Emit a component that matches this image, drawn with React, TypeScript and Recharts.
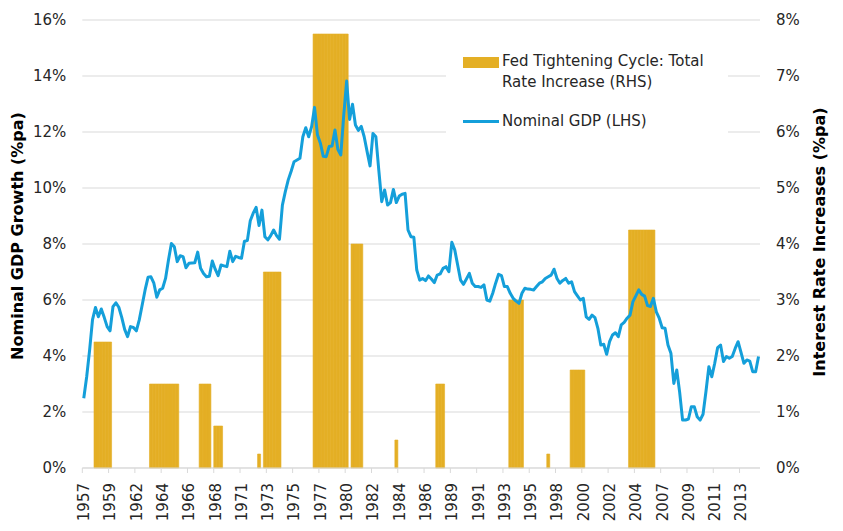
import { ComposedChart, Bar, Line, XAxis, YAxis, CartesianGrid, Legend } from 'recharts';

const FONT = '"DejaVu Sans", Verdana, sans-serif';
const BAR_COLOR = '#E4AF25';
const LINE_COLOR = '#149FDA';
const GRID = '#D9D9D9';
const TEXT = '#262626';

// quarterly data starts at 1957 Q3
const FIRST_YEAR = 1957;
const FIRST_QUARTER = 3;

// Nominal GDP growth, % y/y (LHS)
const gdpGrowth = [
  2.49, 3.26, 4.21, 5.3, 5.73, 5.4, 5.68, 5.38, 5.05, 4.9,
  5.76, 5.9, 5.74, 5.38, 4.95, 4.69, 5.05, 5.02, 4.9, 5.29,
  5.82, 6.36, 6.81, 6.83, 6.6, 6.1, 6.36, 6.42, 6.77, 7.43,
  8.02, 7.9, 7.37, 7.58, 7.55, 7.15, 7.31, 7.32, 7.33, 7.71,
  7.13, 6.95, 6.83, 6.85, 7.39, 7.1, 6.87, 7.25, 7.22, 7.19,
  7.74, 7.37, 7.56, 7.52, 7.49, 8.1, 8.12, 8.83, 9.1, 9.31,
  8.66, 9.21, 8.26, 8.15, 8.3, 8.5, 8.3, 8.17, 9.39, 9.87,
  10.29, 10.6, 10.94, 11.0, 11.06, 11.83, 12.15, 11.83, 12.19, 12.88,
  11.9, 11.6, 11.13, 11.12, 11.48, 11.5, 12.07, 11.37, 11.18, 12.6,
  13.82, 12.45, 12.99, 12.25, 12.06, 12.2, 11.83, 11.3, 10.79, 11.95,
  11.83, 10.64, 9.51, 9.93, 9.39, 9.48, 9.95, 9.48, 9.71, 9.78,
  9.81, 8.5, 8.26, 8.24, 7.07, 6.71, 6.77, 6.69, 6.86, 6.75,
  6.62, 6.89, 6.93, 7.13, 7.19, 7.01, 8.06, 7.79, 7.25, 6.71,
  6.56, 6.75, 6.95, 6.6, 6.48, 6.48, 6.45, 6.54, 6.0, 5.96,
  6.24, 6.6, 6.92, 6.87, 6.48, 6.48, 6.24, 6.06, 5.96, 5.88,
  6.24, 6.42, 6.39, 6.38, 6.36, 6.48, 6.6, 6.65, 6.77, 6.83,
  6.89, 7.1, 6.77, 6.6, 6.7, 6.77, 6.6, 6.65, 6.3, 6.15,
  6.0, 6.06, 5.4, 5.31, 5.46, 5.37, 4.99, 4.39, 4.42, 4.06,
  4.51, 4.75, 4.83, 4.69, 5.11, 5.2, 5.35, 5.46, 5.94, 6.15,
  6.36, 6.2, 6.14, 5.8, 5.77, 6.06, 5.58, 5.35, 5.01, 4.99,
  4.39, 4.1, 3.02, 3.5, 2.7, 1.71, 1.71, 1.75, 2.19, 2.19,
  1.83, 1.71, 1.92, 2.73, 3.62, 3.26, 3.74, 4.3, 4.39, 3.8,
  3.98, 3.92, 3.98, 4.27, 4.51, 4.13, 3.74, 3.86, 3.82, 3.44,
  3.44, 3.98,
];

// Fed tightening cycles: first and last quarter, total rate increase (RHS)
const cycleStart = ['1958Q3', '1963Q2', '1967Q3', '1968Q4', '1972Q3', '1973Q1', '1977Q2', '1980Q3', '1984Q2', '1987Q4', '1994Q1', '1997Q2', '1999Q2', '2004Q2'];
const cycleEnd = ['1959Q4', '1965Q3', '1968Q2', '1969Q2', '1972Q3', '1974Q2', '1980Q1', '1981Q2', '1984Q2', '1988Q2', '1995Q1', '1997Q2', '2000Q2', '2006Q2'];
const cycleRise = [2.25, 1.5, 1.5, 0.75, 0.25, 3.5, 7.75, 4.0, 0.5, 1.5, 3.0, 0.25, 1.75, 4.25];

const leftTicks = [0, 2, 4, 6, 8, 10, 12, 14, 16];
const rightTicks = [0, 1, 2, 3, 4, 5, 6, 7, 8];

const BAR_NAME = ['Fed Tightening Cycle: Total', 'Rate Increase (RHS)'];
const LINE_NAME = 'Nominal GDP (LHS)';

const quarters = gdpGrowth.map((_, i) => {
  const q = FIRST_QUARTER - 1 + i;
  return `${FIRST_YEAR + Math.floor(q / 4)}Q${(q % 4) + 1}`;
});

const data = quarters.map((quarter, i) => {
  let rise: number | null = null;
  cycleStart.forEach((s, k) => {
    if (quarter >= s && quarter <= cycleEnd[k]) rise = cycleRise[k];
  });
  return { quarter, gdp: gdpGrowth[i], rise };
});

const PLOT_LEFT = 82.3;
const PLOT_RIGHT = 760;
const BAND = (PLOT_RIGHT - PLOT_LEFT) / data.length;

function YearTick(props: any) {
  const { x, y, payload } = props;
  const tx = x - BAND / 2;
  const ty = y + 15;
  return (
    <g>
      <line x1={tx} y1={y} x2={tx} y2={y + 5} stroke={GRID} />
      <text
        x={x}
        y={ty}
        dy="0.36em"
        textAnchor="end"
        transform={`rotate(-90 ${x} ${ty})`}
        fontFamily={FONT}
        fontSize={15}
        fill={TEXT}
      >
        {String(payload.value).slice(0, 4)}
      </text>
    </g>
  );
}

function LegendBox() {
  return (
    <div style={{ position: 'relative', width: 282, height: 115, background: '#fff', fontFamily: FONT, fontSize: 15, color: TEXT }}>
      <div style={{ position: 'absolute', left: 17, top: 27, width: 36, height: 11, background: BAR_COLOR }} />
      <div style={{ position: 'absolute', left: 56, top: 21, lineHeight: '21px', whiteSpace: 'nowrap' }}>
        {BAR_NAME[0]}
        <br />
        {BAR_NAME[1]}
      </div>
      <div style={{ position: 'absolute', left: 17, top: 90, width: 36, height: 3, background: LINE_COLOR }} />
      <div style={{ position: 'absolute', left: 56, top: 81, lineHeight: '21px', whiteSpace: 'nowrap' }}>{LINE_NAME}</div>
    </div>
  );
}

export default function App() {
  return (
    <div style={{ position: 'absolute', left: 0, top: 0, background: '#fff' }}>
      <ComposedChart
        width={843}
        height={531}
        data={data}
        margin={{ top: 20, right: 0, bottom: 0, left: 0 }}
        barCategoryGap={0}
        barGap={0}
      >
        <CartesianGrid yAxisId="left" vertical={false} stroke={GRID} />
        <XAxis
          dataKey="quarter"
          interval={8}
          height={63}
          tickLine={false}
          tickSize={0}
          tickMargin={0}
          axisLine={{ stroke: GRID }}
          tick={<YearTick />}
        />
        <YAxis
          yAxisId="left"
          width={PLOT_LEFT}
          domain={[0, 16]}
          ticks={leftTicks}
          tickFormatter={(v: number) => `${v}%`}
          axisLine={false}
          tickLine={false}
          tickSize={0}
          tickMargin={16}
          tick={{ fontFamily: FONT, fontSize: 15, fill: TEXT }}
          label={{
            content: () => (
              <text x={17} y={236} transform="rotate(-90 17 236)" textAnchor="middle" dy="0.36em" fontFamily={FONT} fontSize={16} fontWeight="bold" fill="#000">
                Nominal GDP Growth (%pa)
              </text>
            ),
          }}
        />
        <YAxis
          yAxisId="right"
          orientation="right"
          width={843 - PLOT_RIGHT}
          domain={[0, 8]}
          ticks={rightTicks}
          tickFormatter={(v: number) => `${v}%`}
          axisLine={false}
          tickLine={false}
          tickSize={0}
          tickMargin={16}
          tick={{ fontFamily: FONT, fontSize: 15, fill: TEXT }}
          label={{
            content: () => (
              <text x={819} y={242} transform="rotate(-90 819 242)" textAnchor="middle" dy="0.36em" fontFamily={FONT} fontSize={16} fontWeight="bold" fill="#000">
                Interest Rate Increases (%pa)
              </text>
            ),
          }}
        />
        <Legend
          layout="horizontal"
          verticalAlign="middle"
          content={<LegendBox />}
          wrapperStyle={{ left: 446, top: 30, width: 282, height: 115 }}
        />
        <Bar
          yAxisId="right"
          dataKey="rise"
          fill={BAR_COLOR}
          stroke={BAR_COLOR}
          strokeWidth={0.6}
          isAnimationActive={false}
        />
        <Line
          yAxisId="left"
          type="linear"
          dataKey="gdp"
          stroke={LINE_COLOR}
          strokeWidth={3}
          strokeLinejoin="round"
          dot={false}
          activeDot={false}
          isAnimationActive={false}
        />
      </ComposedChart>
    </div>
  );
}
